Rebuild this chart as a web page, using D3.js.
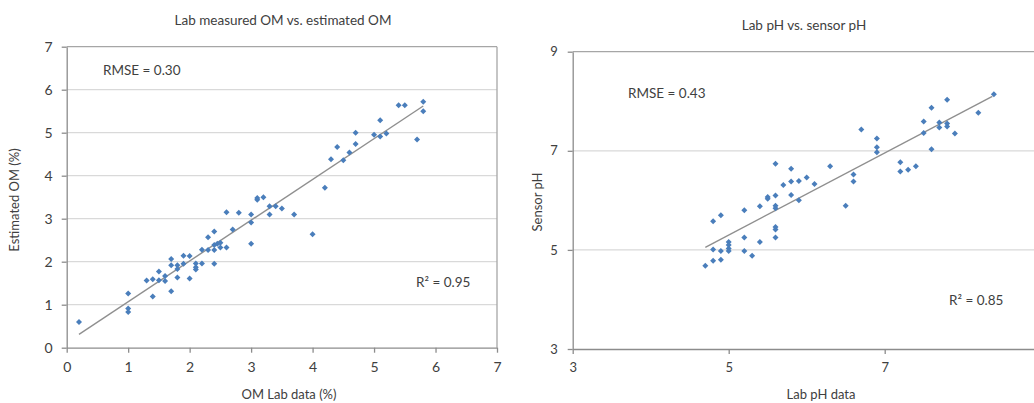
<!DOCTYPE html>
<html>
<head>
<meta charset="utf-8">
<script src="https://cdn.jsdelivr.net/npm/d3@7"></script>
<style>
  html, body { margin: 0; padding: 0; background: #fff; }
  svg text { font-family: Lato, "Open Sans", sans-serif; fill: #404040; }
</style>
</head>
<body>
<svg id="chart" width="1034" height="403"></svg>
<script>
// Panel izquierdo: OM de laboratorio vs OM estimado
const omLab = [0.2, 1.0, 1.0, 1.0, 1.3, 1.4, 1.4, 1.5, 1.5, 1.6, 1.6, 1.7, 1.7, 1.7, 1.8, 1.8, 1.8,
  1.9, 1.9, 2.0, 2.0, 2.1, 2.1, 2.1, 2.2, 2.2, 2.3, 2.3, 2.4, 2.4, 2.4, 2.4, 2.45, 2.5, 2.5, 2.6, 2.6,
  2.7, 2.8, 3.0, 3.0, 3.0, 3.1, 3.1, 3.2, 3.3, 3.3, 3.4, 3.5, 3.7, 4.0, 4.2, 4.3, 4.4, 4.5, 4.6,
  4.7, 4.7, 5.0, 5.1, 5.1, 5.2, 5.4, 5.5, 5.7, 5.8, 5.8];
const omEst = [0.60, 1.26, 0.91, 0.83, 1.56, 1.59, 1.19, 1.77, 1.57, 1.67, 1.55, 2.06, 1.92, 1.31, 1.92, 1.83, 1.63,
  2.14, 1.95, 2.13, 1.61, 1.96, 1.87, 1.82, 2.28, 1.96, 2.57, 2.27, 2.70, 2.39, 2.27, 1.95, 2.42, 2.44, 2.33, 3.15, 2.33,
  2.75, 3.14, 3.10, 2.91, 2.42, 3.44, 3.48, 3.50, 3.29, 3.10, 3.29, 3.24, 3.10, 2.64, 3.72, 4.38, 4.67, 4.36, 4.54,
  4.74, 5.00, 4.95, 4.91, 5.29, 4.98, 5.64, 5.64, 4.84, 5.72, 5.50];
const omTrendX = [0.2, 5.8];
const omTrendY = [0.31, 5.62];
const omTicks = [0, 1, 2, 3, 4, 5, 6, 7];

// Panel derecho: pH de laboratorio vs pH del sensor
const phLab = [4.70, 4.80, 4.80, 4.80, 4.90, 4.90, 4.90, 5.0, 5.0, 5.0, 5.0, 5.20, 5.20, 5.20, 5.30, 5.40, 5.40,
  5.50, 5.50, 5.60, 5.60, 5.60, 5.60, 5.60, 5.60, 5.60, 5.70, 5.80, 5.80, 5.80, 5.90, 5.90, 6.0, 6.10, 6.30,
  6.50, 6.60, 6.60, 6.70, 6.90, 6.90, 6.90, 7.20, 7.20, 7.30, 7.40, 7.50, 7.50, 7.60, 7.60, 7.70, 7.70,
  7.80, 7.80, 7.80, 7.90, 8.20, 8.40];
const phSensor = [4.68, 5.58, 5.01, 4.78, 5.70, 4.98, 4.80, 5.16, 5.10, 5.03, 4.98, 5.80, 5.25, 4.98, 4.88, 5.88, 5.16,
  6.07, 6.03, 6.74, 6.10, 5.89, 5.84, 5.46, 5.41, 5.25, 6.31, 6.64, 6.38, 6.11, 6.39, 6.00, 6.46, 6.33, 6.69,
  5.89, 6.52, 6.38, 7.43, 7.25, 7.07, 6.97, 6.77, 6.58, 6.62, 6.69, 7.59, 7.36, 7.87, 7.03, 7.57, 7.47,
  8.03, 7.55, 7.49, 7.35, 7.77, 8.14];
const phTrendX = [4.70, 8.38];
const phTrendY = [5.05, 8.10];
const phTicks = [3, 5, 7, 9];
const phXTicks = [3, 5, 7];   // el 9 queda fuera de la imagen

const svg = d3.select('#chart');

function drawPanel(p) {
  const x = d3.scaleLinear().domain(p.xDomain).range([p.left, p.right]);
  const y = d3.scaleLinear().domain(p.yDomain).range([p.bottom, p.top]);
  const g = svg.append('g');
  const lastTick = p.ticks[p.ticks.length - 1];

  // lineas de rejilla
  g.selectAll('.grid').data(p.ticks.slice(1, -1)).join('line')
    .attr('x1', p.left).attr('x2', p.right)
    .attr('y1', d => y(d)).attr('y2', d => y(d))
    .attr('stroke', '#d9d9d9').attr('stroke-width', 1.3);

  // borde superior / derecho
  g.append('line').attr('x1', p.left).attr('x2', p.right)
    .attr('y1', y(lastTick)).attr('y2', y(lastTick))
    .attr('stroke', '#a6a6a6').attr('stroke-width', 1.3);
  g.append('line').attr('x1', p.right).attr('x2', p.right)
    .attr('y1', p.top).attr('y2', p.bottom)
    .attr('stroke', '#a6a6a6').attr('stroke-width', 1.3);

  const fmt = d3.format('d');
  const ax = g.append('g').attr('transform', `translate(0,${p.bottom})`)
    .call(d3.axisBottom(x).tickValues(p.xTicks).tickFormat(fmt).tickSize(5).tickSizeOuter(0).tickPadding(9));
  const ay = g.append('g').attr('transform', `translate(${p.left},0)`)
    .call(d3.axisLeft(y).tickValues(p.ticks).tickFormat(fmt).tickSize(5).tickSizeOuter(0).tickPadding(p.yPad));
  [ax, ay].forEach(a => {
    a.select('.domain').attr('stroke', '#8c8c8c').attr('stroke-width', 1.3);
    a.selectAll('.tick line').attr('stroke', '#8c8c8c').attr('stroke-width', 1.3);
    a.selectAll('text').attr('font-size', p.tickFont + 'px').attr('fill', '#404040')
      .style('font-family', 'Lato, sans-serif');
  });

  // linea de tendencia
  g.append('line')
    .attr('x1', x(p.trendX[0])).attr('y1', y(p.trendY[0]))
    .attr('x2', x(p.trendX[1])).attr('y2', y(p.trendY[1]))
    .attr('stroke', '#8f8f8f').attr('stroke-width', 1.4);

  const pts = p.xs.map((v, i) => [v, p.ys[i]]);
  g.selectAll('.pt').data(pts).join('path')
    .attr('d', d3.symbol(d3.symbolSquare, 18))
    .attr('transform', d => `translate(${x(d[0])},${y(d[1])}) rotate(45)`)
    .attr('fill', '#4a7ebb');

  g.append('text').attr('x', p.titleX).attr('y', p.titleY).attr('text-anchor', 'middle')
    .attr('dominant-baseline', 'central').attr('font-size', '13.5px').text(p.title);
  g.append('text').attr('x', p.xLabelX).attr('y', p.xLabelY).attr('text-anchor', 'middle')
    .attr('dominant-baseline', 'central').attr('font-size', '13px').text(p.xLabel);
  g.append('text').attr('transform', `translate(${p.yLabelX},${p.yLabelY}) rotate(-90)`)
    .attr('text-anchor', 'middle').attr('dominant-baseline', 'central')
    .attr('font-size', '13px').text(p.yLabel);
  g.append('text').attr('x', p.rmse[0]).attr('y', p.rmse[1])
    .attr('dominant-baseline', 'central').attr('font-size', '13.5px').text(p.rmseText);
  g.append('text').attr('x', p.r2[0]).attr('y', p.r2[1])
    .attr('dominant-baseline', 'central').attr('font-size', '13.5px').text(p.r2Text);
}

drawPanel({
  left: 66.7, right: 497, top: 46.7, bottom: 347.7,
  xDomain: [0, 7], yDomain: [0, 7], ticks: omTicks, xTicks: omTicks,
  xs: omLab, ys: omEst, trendX: omTrendX, trendY: omTrendY,
  tickFont: 14, yPad: 9,
  title: 'Lab measured OM vs. estimated OM', titleX: 283, titleY: 20,
  xLabel: 'OM Lab data (%)', xLabelX: 289, xLabelY: 394,
  yLabel: 'Estimated OM (%)', yLabelX: 14, yLabelY: 200,
  rmseText: 'RMSE = 0.30', rmse: [103, 70],
  r2Text: 'R² = 0.95', r2: [416, 282]
});

drawPanel({
  left: 572.7, right: 1040.7, top: 51.7, bottom: 349,
  xDomain: [3, 9], yDomain: [3, 9], ticks: phTicks, xTicks: phXTicks,
  xs: phLab, ys: phSensor, trendX: phTrendX, trendY: phTrendY,
  tickFont: 13, yPad: 10,
  title: 'Lab pH vs. sensor pH', titleX: 804, titleY: 25,
  xLabel: 'Lab pH data', xLabelX: 821, xLabelY: 394,
  yLabel: 'Sensor pH', yLabelX: 537, yLabelY: 202,
  rmseText: 'RMSE = 0.43', rmse: [628, 93],
  r2Text: 'R² = 0.85', r2: [949, 300]
});
</script>
</body>
</html>
